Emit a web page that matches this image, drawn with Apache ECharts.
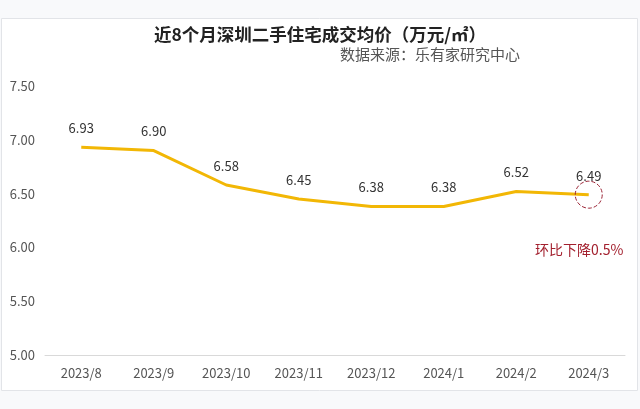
<!DOCTYPE html>
<html><head><meta charset="utf-8">
<script src="https://cdn.jsdelivr.net/npm/echarts@6/dist/echarts.min.js"></script>
<style>html,body{margin:0;padding:0;background:#f8f9fb;}#c{width:640px;height:409px;}</style>
</head><body><div id="c"></div>
<script>
const categories = ['2023/8','2023/9','2023/10','2023/11','2023/12','2024/1','2024/2','2024/3'];
const prices = [6.93, 6.90, 6.58, 6.45, 6.38, 6.38, 6.52, 6.49];
const yTicks = [5.00, 5.50, 6.00, 6.50, 7.00, 7.50];
const titleText = '近8个月深圳二手住宅成交均价（万元/㎡）';
const sourceText = '数据来源：乐有家研究中心';
const noteText = '环比下降0.5%';

const chart = echarts.init(document.getElementById('c'), null, {renderer:'canvas'});
const font = '"Microsoft YaHei","Noto Sans CJK SC","Noto Sans",sans-serif';
chart.setOption({
  backgroundColor: '#f8f9fb',
  textStyle: {fontFamily: font},
  graphic: [
    {type:'rect', shape:{x:1.5,y:18.5,width:636,height:372}, style:{fill:'#ffffff', stroke:'#e2e4e8', lineWidth:1}, z:-10, silent:true},
    {type:'text', left:'center', top:26, style:{text:titleText, fontSize:17.5, fontWeight:'bold', fill:'#222', fontFamily:font}},
    {type:'text', left:340, top:47, style:{text:sourceText, fontSize:15, fill:'#555', fontFamily:font}},
    {type:'text', left:535, top:243, style:{text:noteText, fontSize:14, fill:'#a3202e', fontFamily:font}}
  ],
  grid: {left:45, right:15, top:86, bottom:54},
  xAxis: {
    type:'category', data:categories, boundaryGap:true,
    axisLine:{lineStyle:{color:'#d9d9d9'}}, axisTick:{show:false},
    axisLabel:{color:'#555', fontSize:13, margin:12}
  },
  yAxis: {
    type:'value', min:yTicks[0], max:yTicks[yTicks.length-1], interval:0.5,
    axisLine:{show:false}, axisTick:{show:false}, splitLine:{show:false},
    axisLabel:{color:'#555', fontSize:13, margin:10, formatter:v=>v.toFixed(2)}
  },
  series: [{
    type:'line', data:prices, symbol:'circle', symbolSize:1, showSymbol:true, smooth:false,
    itemStyle:{color:'#f2b705', opacity:0},
    lineStyle:{color:'#f2b705', width:3},
    label:{show:true, position:'top', distance:12, color:'#333', fontSize:13, opacity:1, formatter:p=>p.value.toFixed(2)},
    labelLayout:{hideOverlap:false},
    markPoint:{
      symbol:'circle', symbolSize:27,
      data:[{coord:[categories.length-1, prices[prices.length-1]]}],
      itemStyle:{color:'rgba(0,0,0,0)', borderColor:'#9b2335', borderWidth:1, borderType:'dashed', opacity:1},
      label:{show:false}
    }
  }],
  animation:false
});
</script></body></html>
